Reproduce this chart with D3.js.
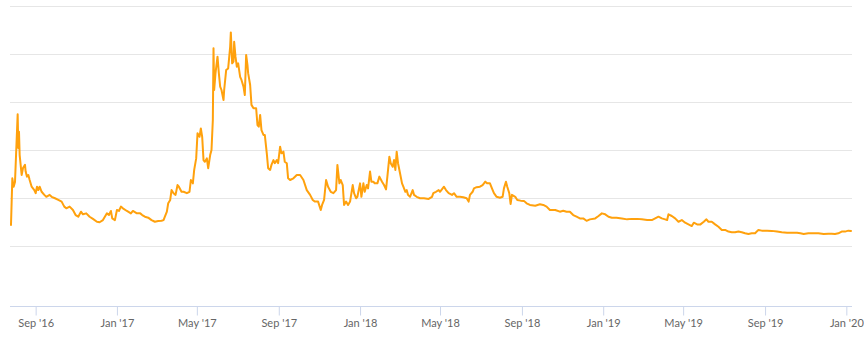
<!DOCTYPE html>
<html>
<head>
<meta charset="utf-8">
<script src="https://cdn.jsdelivr.net/npm/d3@7"></script>
<style>
  html, body { margin: 0; padding: 0; background: #fff; }
  #chart text { font-family: Lato, "Liberation Sans", Arial, sans-serif; }
</style>
</head>
<body>
<div id="chart"></div>
<script>
// daily-ish readings
const dates = [
  "2016-07-26","2016-07-28","2016-07-30","2016-08-01","2016-08-05","2016-08-06","2016-08-07","2016-08-08","2016-08-11","2016-08-13",
  "2016-08-16","2016-08-17","2016-08-19","2016-08-21","2016-08-23","2016-08-26","2016-08-30","2016-09-01","2016-09-03","2016-09-05",
  "2016-09-07","2016-09-10","2016-09-14","2016-09-17","2016-09-22","2016-09-25","2016-09-30","2016-10-05","2016-10-10","2016-10-14",
  "2016-10-17","2016-10-22","2016-10-27","2016-10-31","2016-11-04","2016-11-08","2016-11-11","2016-11-16","2016-11-21","2016-11-26",
  "2016-12-02","2016-12-06","2016-12-11","2016-12-17","2016-12-20","2016-12-23","2016-12-25","2016-12-29","2017-01-01","2017-01-04",
  "2017-01-07","2017-01-10","2017-01-16","2017-01-22","2017-01-25","2017-01-31","2017-02-05","2017-02-08","2017-02-12","2017-02-17",
  "2017-02-22","2017-02-27","2017-03-04","2017-03-09","2017-03-12","2017-03-14","2017-03-17","2017-03-19","2017-03-22","2017-03-24",
  "2017-03-27","2017-03-30","2017-04-02","2017-04-04","2017-04-08","2017-04-11","2017-04-16","2017-04-20","2017-04-22","2017-04-25",
  "2017-04-27","2017-04-30","2017-05-02","2017-05-05","2017-05-07","2017-05-09","2017-05-11","2017-05-13","2017-05-16","2017-05-18",
  "2017-05-21","2017-05-23","2017-05-25","2017-05-26","2017-05-27","2017-05-29","2017-06-01","2017-06-03","2017-06-05","2017-06-07",
  "2017-06-10","2017-06-11","2017-06-14","2017-06-17","2017-06-20","2017-06-21","2017-06-23","2017-06-25","2017-06-26","2017-06-28",
  "2017-06-30","2017-07-02","2017-07-05","2017-07-07","2017-07-10","2017-07-12","2017-07-14","2017-07-16","2017-07-17","2017-07-20",
  "2017-07-22","2017-07-25","2017-07-29","2017-07-31","2017-08-02","2017-08-04","2017-08-06","2017-08-09","2017-08-11","2017-08-14",
  "2017-08-16","2017-08-19","2017-08-21","2017-08-24","2017-08-26","2017-08-29","2017-08-31","2017-09-03","2017-09-05","2017-09-08",
  "2017-09-10","2017-09-13","2017-09-15","2017-09-18","2017-09-23","2017-09-28","2017-10-03","2017-10-08","2017-10-13","2017-10-18",
  "2017-10-22","2017-10-25","2017-10-30","2017-11-03","2017-11-05","2017-11-08","2017-11-11","2017-11-14","2017-11-18","2017-11-22",
  "2017-11-26","2017-11-28","2017-12-01","2017-12-03","2017-12-06","2017-12-08","2017-12-11","2017-12-14","2017-12-17","2017-12-21",
  "2017-12-23","2017-12-26","2017-12-28","2018-01-01","2018-01-03","2018-01-06","2018-01-08","2018-01-11","2018-01-13","2018-01-16",
  "2018-01-18","2018-01-21","2018-01-23","2018-01-27","2018-01-30","2018-02-03","2018-02-06","2018-02-09","2018-02-11","2018-02-14",
  "2018-02-16","2018-02-19","2018-02-21","2018-02-23","2018-02-25","2018-02-27","2018-03-02","2018-03-05","2018-03-07","2018-03-10",
  "2018-03-12","2018-03-14","2018-03-17","2018-03-21","2018-03-23","2018-03-27","2018-04-01","2018-04-07","2018-04-14","2018-04-19",
  "2018-04-21","2018-04-25","2018-04-29","2018-05-01","2018-05-05","2018-05-07","2018-05-10","2018-05-14","2018-05-19","2018-05-22",
  "2018-05-26","2018-05-31","2018-06-05","2018-06-10","2018-06-13","2018-06-15","2018-06-19","2018-06-21","2018-06-25","2018-06-30",
  "2018-07-04","2018-07-08","2018-07-11","2018-07-15","2018-07-18","2018-07-21","2018-07-25","2018-07-30","2018-08-03","2018-08-05",
  "2018-08-08","2018-08-10","2018-08-13","2018-08-15","2018-08-17","2018-08-22","2018-08-25","2018-08-30","2018-09-04","2018-09-08",
  "2018-09-13","2018-09-21","2018-09-28","2018-10-03","2018-10-08","2018-10-13","2018-10-21","2018-10-28","2018-11-02","2018-11-07",
  "2018-11-12","2018-11-17","2018-11-22","2018-11-27","2018-12-02","2018-12-07","2018-12-12","2018-12-20","2018-12-25","2018-12-30",
  "2019-01-04","2019-01-09","2019-01-14","2019-01-21","2019-01-29","2019-02-06","2019-02-13","2019-02-21","2019-02-28","2019-03-08",
  "2019-03-15","2019-03-20","2019-03-25","2019-03-30","2019-04-04","2019-04-07","2019-04-09","2019-04-14","2019-04-19","2019-04-24",
  "2019-04-29","2019-05-04","2019-05-09","2019-05-14","2019-05-17","2019-05-22","2019-05-27","2019-06-01","2019-06-05","2019-06-08",
  "2019-06-13","2019-06-18","2019-06-23","2019-06-28","2019-07-03","2019-07-08","2019-07-13","2019-07-18","2019-07-23","2019-07-28",
  "2019-08-02","2019-08-07","2019-08-12","2019-08-17","2019-08-22","2019-08-27","2019-09-04","2019-09-11","2019-09-19","2019-09-26",
  "2019-10-04","2019-10-11","2019-10-19","2019-10-24","2019-10-29","2019-11-05","2019-11-13","2019-11-20","2019-11-28","2019-12-05",
  "2019-12-10","2019-12-15","2019-12-20","2019-12-25","2019-12-30","2020-01-04","2020-01-08"
];

const values = [
  33.8, 53.2, 49.7, 51.7, 79.9, 65.8, 72.6, 62.9, 54.6, 57.5,
  58.8, 56.0, 53.9, 54.6, 52.5, 49.7, 48.3, 47.0, 49.7, 48.3,
  49.7, 47.6, 46.3, 45.5, 46.3, 45.5, 44.9, 44.2, 43.5, 41.4,
  40.7, 41.4, 40.0, 37.9, 37.2, 39.3, 38.2, 38.6, 37.2, 36.3,
  35.1, 34.9, 35.8, 38.6, 37.9, 39.6, 36.5, 35.8, 40.0, 39.6,
  41.4, 40.7, 39.6, 38.6, 39.6, 38.6, 38.6, 37.9, 37.2, 36.8,
  35.8, 35.1, 35.4, 35.5, 35.8, 37.2, 39.3, 42.8, 44.2, 48.3,
  47.0, 46.3, 50.4, 49.7, 47.6, 47.6, 47.0, 47.6, 52.5, 51.1,
  56.7, 61.5, 72.0, 70.5, 74.0, 70.5, 60.8, 60.1, 61.5, 57.4,
  62.9, 65.0, 77.5, 107.4, 90.0, 97.0, 103.9, 97.0, 91.4, 90.0,
  85.8, 90.0, 98.3, 99.0, 108.0, 114.0, 101.1, 101.8, 110.1, 103.9,
  99.7, 101.1, 95.5, 94.2, 91.4, 87.9, 104.6, 100.4, 97.0, 92.1,
  83.8, 82.4, 82.4, 75.4, 74.7, 79.6, 73.3, 71.3, 71.3, 63.6,
  57.4, 56.7, 58.8, 60.8, 59.5, 60.8, 59.5, 66.4, 63.6, 64.3,
  60.1, 59.5, 53.2, 52.5, 53.2, 54.6, 54.6, 52.5, 48.3, 46.3,
  44.2, 43.5, 43.5, 40.0, 42.1, 44.2, 52.5, 49.7, 47.6, 47.0,
  48.3, 58.8, 51.1, 52.5, 50.4, 42.1, 43.5, 42.1, 43.5, 50.4,
  47.0, 44.9, 45.5, 51.1, 45.5, 51.1, 47.6, 50.4, 49.0, 56.0,
  51.8, 51.8, 51.1, 51.1, 53.9, 51.8, 50.4, 48.6, 53.9, 62.2,
  59.5, 58.0, 60.8, 56.7, 64.3, 59.5, 55.3, 51.1, 49.7, 47.6,
  48.3, 46.3, 45.5, 48.3, 46.3, 45.5, 44.9, 44.9, 44.6, 45.5,
  47.0, 47.6, 48.3, 47.6, 49.0, 49.7, 48.3, 47.0, 46.3, 47.0,
  45.5, 45.5, 45.3, 44.9, 43.5, 46.3, 47.6, 49.0, 49.5, 49.7,
  50.4, 51.8, 51.1, 51.1, 49.0, 47.0, 45.5, 45.1, 45.5, 49.0,
  51.8, 49.7, 47.0, 42.5, 46.3, 45.5, 44.2, 43.9, 43.8, 42.8,
  42.1, 41.8, 42.4, 42.1, 41.4, 40.0, 40.0, 39.3, 39.7, 39.3,
  39.3, 37.9, 37.2, 36.5, 36.5, 35.5, 36.1, 36.5, 37.5, 38.6,
  38.2, 37.2, 36.8, 36.8, 36.5, 36.1, 36.3, 36.3, 36.1, 35.8,
  35.8, 36.5, 37.2, 36.5, 36.1, 35.8, 38.2, 37.5, 36.5, 35.1,
  35.8, 34.7, 34.0, 33.3, 34.7, 34.0, 34.0, 35.1, 36.1, 35.1,
  35.1, 34.0, 33.0, 31.7, 31.7, 31.0, 30.7, 30.7, 31.0, 30.7,
  30.3, 30.0, 30.3, 30.3, 31.7, 31.4, 31.4, 31.3, 31.0, 30.7,
  30.5, 30.5, 30.5, 30.3, 30.0, 30.3, 30.3, 30.3, 30.0, 30.1,
  30.1, 30.0, 30.3, 31.0, 31.0, 31.4, 31.3
];

const xTickDates = ["2016-09-01","2017-01-01","2017-05-01","2017-09-01","2018-01-01","2018-05-01",
                    "2018-09-01","2019-01-01","2019-05-01","2019-09-01","2020-01-01"];
const yGridValues = [25, 45, 65, 85, 105, 125];

let width = 864, height = 338;
let plot = {left: 10, right: 852, top: 6, bottom: 306};

let parse = d3.timeParse("%Y-%m-%d");
let data = dates.map(function(d, i){
    return {date: parse(d), value: values[i]};
});

let svg = d3.select("#chart").append("svg")
    .attr("width", width)
    .attr("height", height);

let x = d3.scaleTime()
    .domain(d3.extent(data, function(d){ return d.date; }))
    .range([11, 851]);

let y = d3.scaleLinear()
    .domain([0, 125])
    .range([plot.bottom, plot.top]);

// horizontal grid
svg.append("g")
    .selectAll("line")
    .data(yGridValues)
    .enter()
    .append("line")
    .attr("x1", plot.left)
    .attr("x2", plot.right)
    .attr("y1", function(d){ return Math.round(y(d)) + 0.5; })
    .attr("y2", function(d){ return Math.round(y(d)) + 0.5; })
    .attr("stroke", "#e6e6e6")
    .attr("stroke-width", 1);

// x axis
let xAxis = d3.axisBottom(x)
    .tickValues(xTickDates.map(parse))
    .tickFormat(d3.timeFormat("%b '%y"))
    .tickSize(9)
    .tickPadding(4);

let gx = svg.append("g")
    .attr("transform", "translate(0," + (plot.bottom + 0.5) + ")")
    .call(xAxis);

gx.select(".domain").remove();
gx.append("line")
    .attr("x1", plot.left)
    .attr("x2", plot.right)
    .attr("stroke", "#ccd6eb");
gx.selectAll(".tick line").attr("stroke", "#ccd6eb");
gx.selectAll(".tick text")
    .attr("fill", "#666666")
    .style("font-size", "11px");

// the series
let line = d3.line()
    .x(function(d){ return x(d.date); })
    .y(function(d){ return y(d.value); });

svg.append("path")
    .datum(data)
    .attr("d", line)
    .attr("fill", "none")
    .attr("stroke", "#ffa10d")
    .attr("stroke-width", 2)
    .attr("stroke-linejoin", "round")
    .attr("stroke-linecap", "round");
</script>
</body>
</html>
